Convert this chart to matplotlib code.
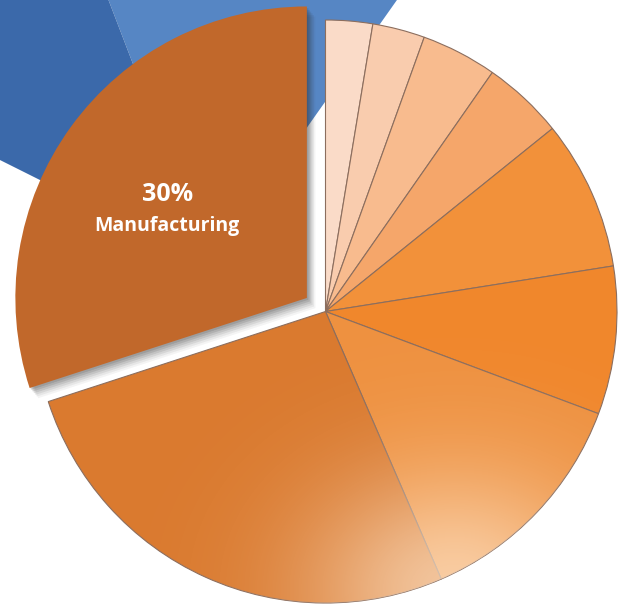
import numpy as np
import matplotlib
matplotlib.use("Agg")
import matplotlib.pyplot as plt
from matplotlib.patches import Wedge, Circle

# ---- data ----
categories = ["Segment A", "Segment B", "Segment C", "Segment D", "Segment E",
              "Segment F", "Segment G", "Segment H", "Manufacturing"]
values = [2.6, 2.9, 4.2, 4.5, 8.3, 8.2, 12.8, 26.5, 30.0]
colors = ["#FADBC8", "#F9CCAE", "#F8BB8E", "#F5A66A", "#F2913A",
          "#F0872C", "#EE9140", "#DA7A2F", "#C1682B"]
highlight = "Manufacturing"

# background (second, blue) pie: visible slices, percent of its circle
blue_values = [15.6, 11.8]
blue_colors = ["#5686C4", "#3B69AA"]

W, H = 621, 606
fig = plt.figure(figsize=(W / 100, H / 100), dpi=100)
ax = fig.add_axes([0, 0, 1, 1])
ax.set_xlim(0, W)
ax.set_ylim(0, H)
ax.axis("off")

# ---- blue background pie ----
bcx, bcy, br = 210, H - 265, 460
start = 54.8
for v, c in zip(blue_values, blue_colors):
    span = v / 100 * 360
    ax.add_patch(Wedge((bcx, bcy), br, start, start + span, facecolor=c,
                       edgecolor="none", zorder=0.1))
    start += span

# ---- main pie ----
cx, cy, R = 325.5, H - 311.5, 291.5
explode = [0.079 * R if c == highlight else 0 for c in categories]
wedges, _ = ax.pie(values, colors=colors, startangle=90, counterclock=False,
                   center=(cx, cy), radius=R, explode=explode,
                   wedgeprops=dict(edgecolor="#8C6E5E", linewidth=0.8))
for w in wedges:
    w.set_zorder(2)

ax.set_xlim(0, W)
ax.set_ylim(0, H)
ax.set_aspect("auto")
ax.axis("off")

# shadow under the exploded slice
hw = wedges[categories.index(highlight)]
hw.set_edgecolor("none")
for i, a in enumerate([0.14, 0.13, 0.11, 0.09, 0.07, 0.05]):
    off = 1.5 + i * 1.4
    ax.add_patch(Wedge((hw.center[0] + off, hw.center[1] - off * 1.2), hw.r,
                       hw.theta1, hw.theta2, facecolor="#303030", alpha=a,
                       edgecolor="none", zorder=1.5))

# soft highlight at the bottom of the main pie
n = 300
xs = np.linspace(cx - R, cx + R, n)
ys = np.linspace(cy - R, cy + R, n)
X, Y = np.meshgrid(xs, ys)
hx, hy = 455, H - 590
d2 = ((X - hx) / 150) ** 2 + ((Y - hy) / 120) ** 2
img = np.zeros((n, n, 4))
img[..., :3] = [1.0, 0.93, 0.85]
img[..., 3] = 0.65 * np.exp(-d2)
im = ax.imshow(img, extent=(cx - R, cx + R, cy - R, cy + R), origin="lower",
               zorder=2.5, interpolation="bilinear")
clip = Circle((cx, cy), R, transform=ax.transData)
im.set_clip_path(clip)
ax.set_xlim(0, W)
ax.set_ylim(0, H)

# label in the exploded slice
mid = np.deg2rad((hw.theta1 + hw.theta2) / 2 + 2.5)
lr = 0.575 * hw.r
tx = hw.center[0] + lr * np.cos(mid)
ty = hw.center[1] + lr * np.sin(mid)
pct = values[categories.index(highlight)]
ax.text(tx, ty + 10.5, f"{pct:.0f}%", color="white", fontsize=18,
        fontweight="bold", family="Open Sans", ha="center", va="center",
        zorder=4)
ax.text(tx, ty - 20.5, highlight, color="white", fontsize=14,
        fontweight="bold", family="Open Sans", ha="center", va="center",
        zorder=4)

fig.savefig("out.png", dpi=100)
